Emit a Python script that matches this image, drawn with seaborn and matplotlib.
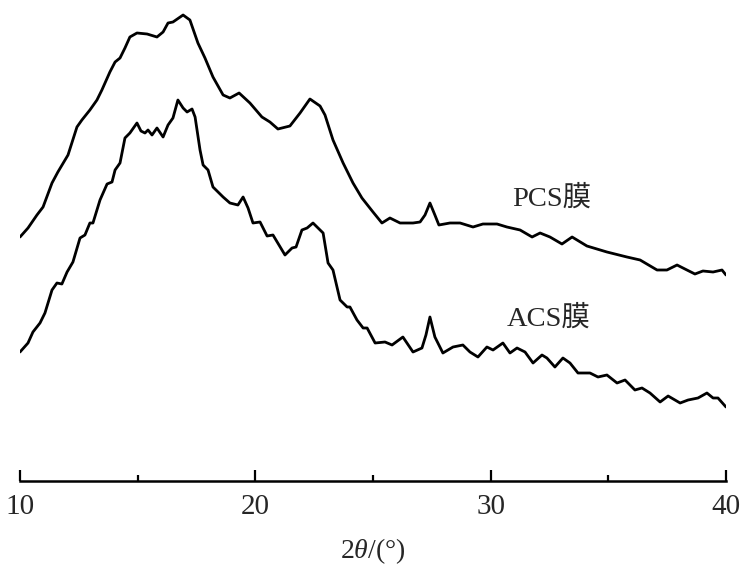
import matplotlib
matplotlib.use("Agg")
import matplotlib.pyplot as plt
import seaborn as sns
import pandas as pd
from matplotlib.ticker import FixedLocator

# 2theta (deg) and relative intensity (arbitrary offset units)
pcs_theta = [10.00, 10.34, 10.72, 10.98, 11.36, 11.61, 12.04, 12.42, 12.63, 12.97,
             13.27, 13.48, 13.82, 14.04, 14.25, 14.46, 14.67, 14.97, 15.40, 15.82,
             16.08, 16.29, 16.50, 16.93, 17.22, 17.56, 17.86, 18.20, 18.63, 18.92,
             19.31, 19.77, 20.28, 20.62, 20.96, 21.47, 21.90, 22.32, 22.75, 22.96,
             23.30, 23.73, 24.15, 24.53, 25.00, 25.38, 25.72, 26.15, 26.70, 27.00,
             27.21, 27.42, 27.63, 27.80, 28.27, 28.70, 29.25, 29.67, 30.27, 30.69,
             31.25, 31.76, 32.10, 32.52, 33.03, 33.46, 34.09, 34.94, 35.79, 36.35,
             37.07, 37.49, 37.92, 38.34, 38.68, 39.02, 39.45, 39.83, 40.00]
pcs_int = [244, 253, 266, 274, 298, 309, 326, 354, 361, 371,
           381, 391, 409, 419, 423, 433, 444, 448, 447, 444,
           449, 458, 459, 466, 461, 438, 423, 404, 386, 383,
           388, 378, 364, 359, 352, 355, 368, 382, 375, 366,
           341, 318, 298, 283, 269, 258, 263, 258, 258, 259,
           266, 278, 266, 256, 258, 258, 254, 257, 257, 254,
           251, 244, 248, 244, 237, 244, 235, 229, 224, 221,
           211, 211, 216, 211, 207, 210, 209, 211, 206]

acs_theta = [10.00, 10.34, 10.55, 10.85, 11.06, 11.36, 11.57, 11.78, 12.00, 12.25,
             12.55, 12.76, 12.97, 13.10, 13.40, 13.70, 13.91, 14.04, 14.25, 14.46,
             14.67, 14.97, 15.14, 15.31, 15.44, 15.61, 15.82, 16.08, 16.29, 16.50,
             16.71, 16.93, 17.10, 17.31, 17.44, 17.65, 17.78, 17.99, 18.20, 18.63,
             18.92, 19.26, 19.48, 19.69, 19.90, 20.20, 20.50, 20.75, 21.26, 21.56,
             21.73, 21.98, 22.20, 22.45, 22.88, 23.09, 23.30, 23.60, 23.90, 24.02,
             24.32, 24.58, 24.75, 25.09, 25.51, 25.81, 26.27, 26.70, 27.08, 27.25,
             27.42, 27.63, 27.97, 28.40, 28.82, 29.12, 29.46, 29.84, 30.10, 30.52,
             30.82, 31.12, 31.46, 31.80, 32.18, 32.39, 32.73, 33.07, 33.37, 33.71,
             34.22, 34.56, 34.94, 35.37, 35.71, 36.13, 36.43, 36.77, 37.20, 37.54,
             38.05, 38.39, 38.81, 39.19, 39.45, 39.66, 40.00]
acs_int = [129, 138, 149, 158, 168, 191, 198, 197, 209, 219,
           243, 246, 258, 258, 281, 297, 299, 311, 318, 343,
           348, 358, 350, 348, 351, 346, 353, 344, 356, 363,
           381, 373, 369, 372, 364, 331, 316, 311, 294, 284,
           278, 276, 284, 273, 258, 259, 245, 246, 226, 233,
           234, 251, 253, 258, 248, 218, 211, 181, 174, 174,
           161, 153, 153, 138, 139, 136, 144, 129, 133, 146,
           164, 144, 128, 134, 136, 129, 124, 134, 131, 138,
           128, 133, 129, 118, 126, 123, 114, 123, 118, 108,
           108, 104, 106, 98, 101, 91, 93, 88, 79, 85,
           78, 81, 83, 88, 83, 83, 74]

sample_names = ["PCS膜", "ACS膜"]
x_ticks = [10, 20, 30, 40]
x_minor = [15, 25, 35]

df = pd.concat([
    pd.DataFrame({"theta": pcs_theta, "intensity": pcs_int, "sample": sample_names[0]}),
    pd.DataFrame({"theta": acs_theta, "intensity": acs_int, "sample": sample_names[1]}),
])

sns.set_style("white")
plt.rcParams["font.family"] = ["Liberation Serif", "Noto Sans CJK SC"]
plt.rcParams["mathtext.fontset"] = "custom"
plt.rcParams["mathtext.rm"] = "Liberation Serif"
plt.rcParams["mathtext.it"] = "Liberation Serif:italic"

fig = plt.figure(figsize=(7.5, 5.75), dpi=100)
ax = fig.add_axes([20 / 750, 1 - 481 / 575, 706 / 750, 481 / 575])

sns.lineplot(data=df, x="theta", y="intensity", hue="sample", units="sample",
             estimator=None, sort=False, palette=["black", "black"], legend=False,
             linewidth=2.0, ax=ax)
for ln in ax.lines:
    ln.set_solid_joinstyle("round")
    ln.set_solid_capstyle("round")

ax.set_xlim(10, 40)
ax.set_ylim(0, 481)
for s in ["left", "right", "top"]:
    ax.spines[s].set_visible(False)
ax.spines["bottom"].set_linewidth(1.8)
ax.spines["bottom"].set_color("black")
ax.set_yticks([])
ax.set_ylabel("")
ax.xaxis.set_major_locator(FixedLocator(x_ticks))
ax.xaxis.set_minor_locator(FixedLocator(x_minor))
ax.set_xticklabels([str(t) for t in x_ticks])
ax.tick_params(axis="x", which="both", bottom=True, top=False)
ax.tick_params(axis="x", which="major", direction="in", length=8, width=1.6,
               labelsize=21, pad=9, color="black")
ax.tick_params(axis="x", which="minor", direction="in", length=4.5, width=1.6, color="black")
ax.set_xlabel(r"2$\mathit{\theta}$/(°)", fontsize=20, labelpad=12)

ax.text(32.6, 481 - 198, sample_names[0], fontsize=20.5, ha="center", va="center")
ax.text(32.45, 481 - 318, sample_names[1], fontsize=20.5, ha="center", va="center")

fig.savefig("out.png", dpi=100)
